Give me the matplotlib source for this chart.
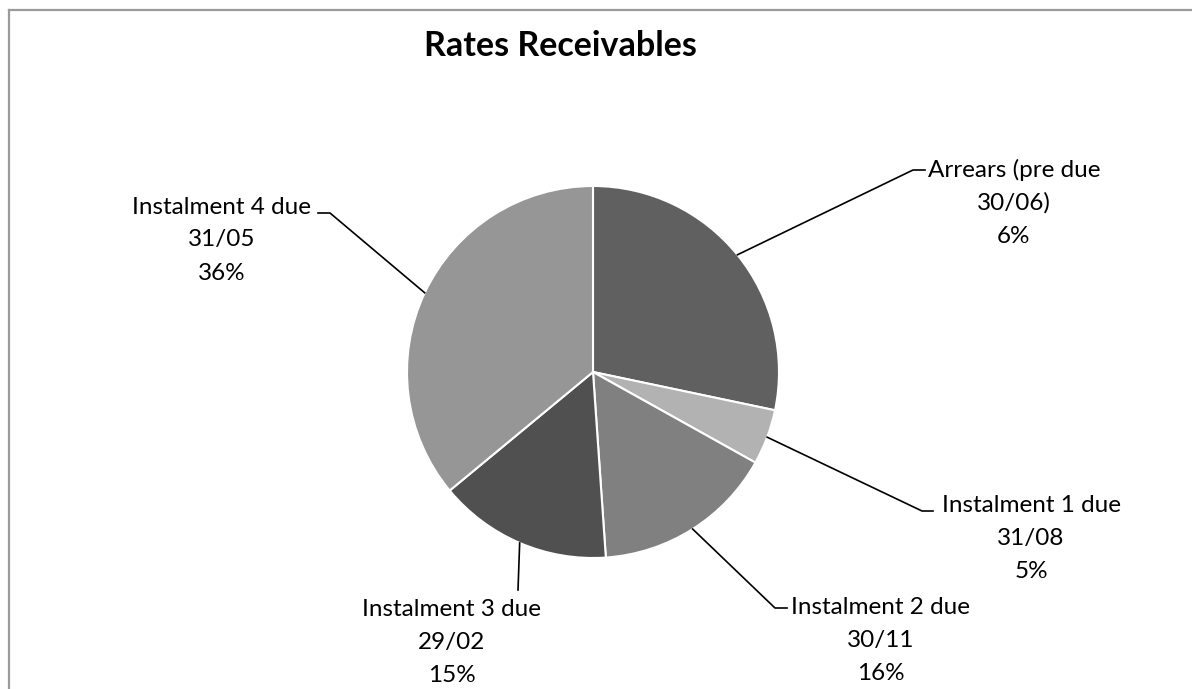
import matplotlib
matplotlib.use("Agg")
import matplotlib.pyplot as plt
import numpy as np

categories = ["Arrears (pre due\n30/06)", "Instalment 1 due\n31/08", "Instalment 2 due\n30/11",
              "Instalment 3 due\n29/02", "Instalment 4 due\n31/05"]
slice_values = [28.3, 4.8, 15.8, 15.1, 36.0]
label_percents = ["6%", "5%", "16%", "15%", "36%"]
colors = ["#606060", "#b2b2b2", "#808080", "#505050", "#969696"]

W, H = 1192, 689
fig = plt.figure(figsize=(W / 100, H / 100), dpi=100)
plt.rcParams['font.family'] = ['Lato', 'DejaVu Sans']

def fx(x):
    return x / W

def fy(y):
    return 1 - y / H

# border (top and left visible)
fig.add_artist(plt.Line2D([fx(8.5), fx(8.5)], [0, fy(9.5)], color="#9b9b9b", lw=1.6))
fig.add_artist(plt.Line2D([fx(8.5), 1], [fy(9.5), fy(9.5)], color="#9b9b9b", lw=1.6))

cx, cy, r = 593, 372, 186
ax = fig.add_axes([fx(cx - r), fy(cy + r), 2 * r / W, 2 * r / H])
wedges, _ = ax.pie(slice_values, colors=colors, startangle=90, counterclock=False,
                   radius=1.0, wedgeprops=dict(edgecolor="white", linewidth=1.5))
ax.set_xlim(-1, 1)
ax.set_ylim(-1, 1)
ax.set_aspect("equal")
ax.axis("off")

fig.text(fx(560), fy(46), "Rates Receivables", ha="center", va="center",
         fontsize=24.5, fontweight="bold", color="black")

# label layout (pixel positions): text center x, first line y, leader elbow, leader end
layout = [
    dict(tx=1014, ty=170, elbow=(913, 170), end=(925, 170)),
    dict(tx=1031, ty=506, elbow=(922, 511), end=(933, 511)),
    dict(tx=881, ty=608, elbow=(775, 608), end=(787, 608)),
    dict(tx=452, ty=610, elbow=(518, 590), end=(518, 590)),
    dict(tx=222, ty=207, elbow=(330, 213), end=(318, 213)),
]

line_gap = 33
for w, cat, pct, lay in zip(wedges, categories, label_percents, layout):
    ang = np.deg2rad((w.theta1 + w.theta2) / 2)
    ex = cx + r * np.cos(ang)
    ey = cy - r * np.sin(ang)
    xs = [ex, lay["elbow"][0], lay["end"][0]]
    ys = [ey, lay["elbow"][1], lay["end"][1]]
    fig.add_artist(plt.Line2D([fx(v) for v in xs], [fy(v) for v in ys], color="black", lw=1.2))
    lines = cat.split("\n") + [pct]
    for i, ln in enumerate(lines):
        fig.text(fx(lay["tx"]), fy(lay["ty"] + i * line_gap), ln, ha="center", va="center",
                 fontsize=17.5, color="black")

fig.savefig("out.png", dpi=100, facecolor="white")
